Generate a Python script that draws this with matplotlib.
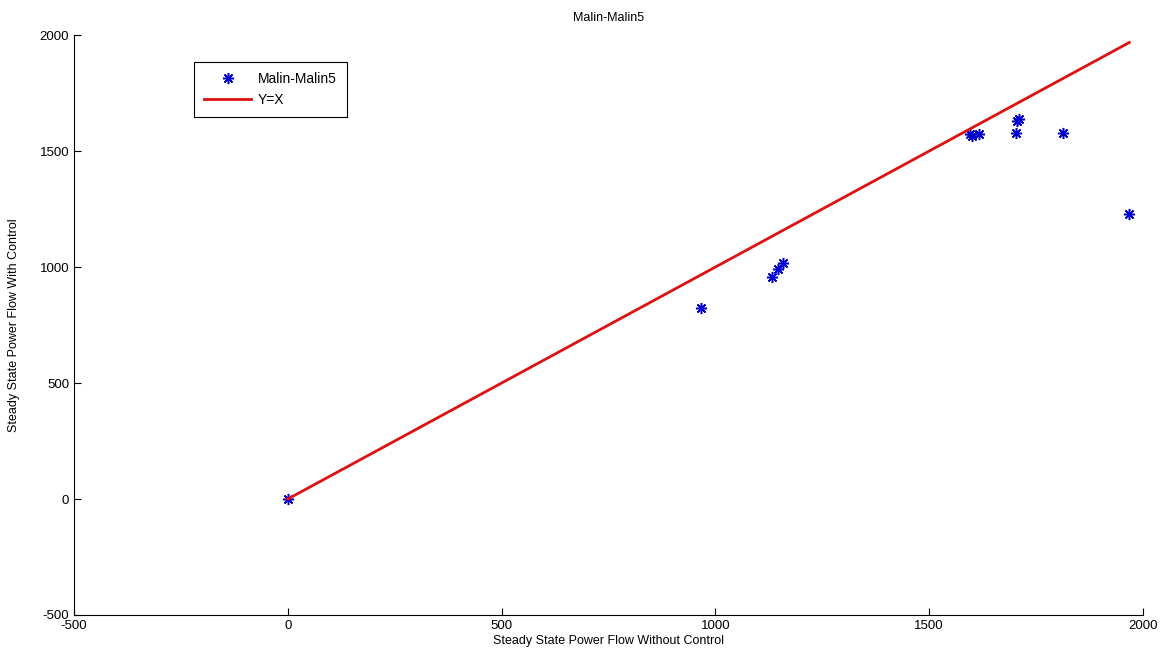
import matplotlib
matplotlib.use("Agg")
import matplotlib.pyplot as plt

# data
x_flow = [0, 966, 1132, 1147, 1157, 1595, 1600, 1616, 1703, 1706, 1710, 1813, 1967]
y_flow = [0, 825, 958, 991, 1016, 1572, 1563, 1572, 1577, 1628, 1640, 1577, 1228]
line_x = [0, 1968]
line_y = [0, 1968]

x_ticks = [-500, 0, 500, 1000, 1500, 2000]
y_ticks = [-500, 0, 500, 1000, 1500, 2000]

plt.rcParams['font.family'] = ['Liberation Sans', 'DejaVu Sans']
plt.rcParams['font.size'] = 9
plt.rcParams['axes.unicode_minus'] = False

fig = plt.figure(figsize=(11.73, 6.62), dpi=100)
ax = fig.add_axes([0.0631, 0.071, 0.9113, 0.876])

# matlab style asterisk marker
ax.plot(x_flow, y_flow, linestyle='none', marker=(8, 2, 0), color='#0000cc',
        markersize=8, markeredgewidth=1.1, label='Malin-Malin5')
ax.plot(line_x, line_y, color='#dd1111', linewidth=2, label='Y=X')

ax.set_xlim(-500, 2000)
ax.set_ylim(-500, 2000)
ax.set_xticks(x_ticks)
ax.set_yticks(y_ticks)
ax.tick_params(direction='in', length=5, width=0.8, labelsize=9.5)
ax.spines['top'].set_visible(False)
ax.spines['right'].set_visible(False)

ax.set_title('Malin-Malin5', fontsize=9, pad=10)
ax.set_xlabel('Steady State Power Flow Without Control', fontsize=9, labelpad=2)
ax.set_ylabel('Steady State Power Flow With Control', fontsize=9, labelpad=14)

leg = ax.legend(loc='upper left', bbox_to_anchor=(0.106, 0.965), fancybox=False,
                edgecolor='black', framealpha=1, fontsize=10, handlelength=3.4,
                borderpad=0.7, labelspacing=0.5, handletextpad=0.5)
leg.get_frame().set_linewidth(0.8)

fig.savefig('out.png', dpi=100)
